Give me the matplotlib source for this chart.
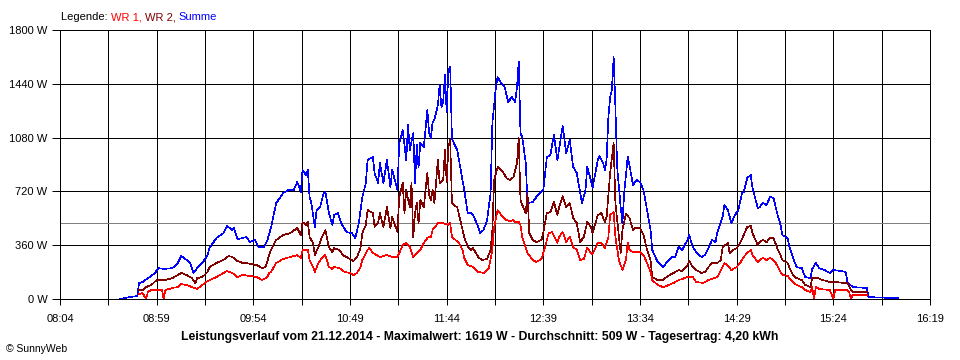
import matplotlib
matplotlib.use("Agg")
import matplotlib.pyplot as plt

plt.rcParams['font.family'] = ['Liberation Sans', 'DejaVu Sans']

# times in minutes since midnight, power in W
t_summe = [518, 524, 528, 529, 531, 535, 538, 540, 543, 548,
           551, 553, 556, 558, 560, 562, 565, 568, 569, 573,
           577, 579, 582, 583, 585, 588, 590, 592, 595, 597,
           600, 602, 604, 607, 611, 614, 617, 619, 621, 622,
           624, 625, 626, 627, 629, 630, 632, 634, 635, 637,
           639, 640, 642, 644, 647, 650, 652, 654, 656, 658,
           659, 662, 663, 665, 666, 668, 670, 672, 673, 676,
           677, 679, 681, 682, 683, 685, 686, 687, 688, 689,
           691, 693, 694, 695, 696, 697, 699, 700, 701, 702,
           703, 704, 705, 706, 707, 708, 710, 712, 714, 716,
           718, 719, 722, 723, 725, 727, 729, 730, 732, 733,
           735, 737, 739, 741, 743, 744, 745, 746, 747, 749,
           750, 753, 755, 757, 759, 761, 763, 765, 767, 769,
           770, 772, 774, 776, 778, 780, 781, 783, 784, 786,
           787, 790, 791, 793, 794, 795, 796, 797, 798, 799,
           800, 801, 803, 804, 805, 807, 808, 810, 812, 814,
           816, 818, 820, 821, 824, 827, 829, 832, 834, 836,
           838, 841, 842, 844, 846, 849, 851, 853, 855, 857,
           858, 861, 862, 864, 866, 868, 870, 872, 873, 875,
           877, 878, 881, 882, 884, 886, 888, 890, 892, 894,
           895, 898, 899, 901, 903, 906, 908, 911, 912, 914,
           916, 919, 922, 924, 928, 931, 932, 935, 943, 944,
           951, 961]
p_summe = [0, 13, 20, 107, 114, 147, 174, 207, 201, 207,
           241, 288, 261, 241, 174, 207, 241, 294, 341, 408,
           441, 488, 462, 475, 401, 408, 415, 381, 395, 348,
           348, 395, 475, 642, 709, 729, 729, 783, 716, 863,
           830, 863, 682, 642, 482, 595, 615, 709, 716, 575,
           495, 562, 575, 508, 448, 441, 408, 508, 682, 776,
           930, 950, 843, 776, 910, 776, 930, 749, 863, 729,
           1044, 1130, 930, 1164, 997, 1110, 776, 1030, 883, 1044,
           1017, 1264, 1110, 1077, 1184, 1198, 1298, 1432, 1285, 1318,
           1499, 1251, 1532, 1552, 1077, 1044, 997, 863, 729, 575,
           575, 562, 482, 441, 462, 528, 709, 1177, 1418, 1485,
           1445, 1418, 1318, 1351, 1318, 1418, 1586, 1110, 1084, 910,
           642, 649, 682, 709, 729, 950, 963, 1097, 930, 1084,
           1157, 977, 1064, 883, 843, 709, 642, 729, 883, 796,
           743, 930, 957, 910, 863, 930, 1218, 1350, 1398, 1619,
           1285, 883, 615, 508, 709, 950, 896, 763, 796, 783,
           729, 595, 462, 328, 248, 214, 241, 281, 281, 348,
           328, 395, 428, 348, 314, 281, 294, 341, 395, 381,
           448, 548, 629, 595, 508, 562, 595, 709, 716, 809,
           830, 743, 609, 615, 642, 629, 682, 676, 575, 495,
           428, 408, 348, 281, 214, 207, 147, 140, 201, 241,
           207, 194, 174, 194, 188, 181, 114, 80, 74, 13,
           10, 5]

t_wr2 = [529, 531, 533, 536, 539, 544, 548, 551, 553, 556,
         559, 561, 562, 565, 568, 569, 573, 577, 580, 582,
         585, 588, 590, 593, 596, 599, 601, 603, 604, 607,
         611, 615, 619, 621, 622, 624, 625, 626, 628, 629,
         631, 633, 635, 637, 639, 640, 643, 645, 648, 651,
         653, 655, 656, 658, 659, 662, 663, 665, 666, 668,
         670, 672, 673, 676, 677, 679, 680, 681, 683, 684,
         685, 686, 687, 688, 689, 691, 693, 694, 695, 696,
         697, 699, 700, 702, 703, 704, 705, 706, 707, 708,
         710, 712, 714, 716, 718, 719, 722, 724, 727, 729,
         730, 731, 733, 734, 736, 738, 740, 742, 744, 745,
         746, 747, 749, 750, 751, 753, 755, 758, 759, 761,
         763, 765, 767, 768, 770, 772, 774, 776, 778, 780,
         782, 784, 786, 787, 790, 792, 794, 795, 797, 799,
         800, 802, 803, 804, 806, 808, 810, 811, 814, 816,
         818, 820, 821, 824, 827, 830, 833, 836, 838, 841,
         842, 844, 846, 849, 851, 853, 855, 858, 860, 861,
         864, 865, 867, 869, 871, 873, 875, 877, 878, 881,
         882, 884, 886, 888, 890, 892, 894, 895, 898, 899,
         901, 903, 906, 908, 911, 912, 915, 918, 922, 925,
         930, 932, 934, 935, 943]
p_wr2 = [60, 60, 80, 94, 127, 127, 140, 161, 174, 161,
         140, 107, 140, 147, 181, 214, 241, 261, 288, 281,
         254, 241, 241, 234, 227, 207, 214, 294, 328, 395,
         428, 441, 475, 428, 515, 495, 515, 415, 375, 294,
         348, 415, 462, 348, 314, 341, 328, 294, 274, 254,
         281, 341, 441, 495, 595, 575, 482, 508, 575, 482,
         615, 475, 548, 448, 682, 776, 575, 729, 615, 776,
         415, 575, 642, 508, 662, 615, 843, 700, 662, 729,
         640, 930, 776, 796, 997, 780, 1017, 1064, 642, 629,
         615, 515, 415, 348, 328, 341, 281, 261, 268, 328,
         462, 796, 883, 876, 850, 809, 796, 816, 910, 1077,
         662, 629, 575, 709, 441, 395, 381, 395, 448, 575,
         582, 649, 562, 615, 689, 615, 642, 542, 508, 381,
         415, 515, 482, 441, 562, 575, 515, 548, 843, 1044,
         642, 415, 308, 462, 569, 542, 462, 475, 475, 428,
         328, 261, 147, 127, 127, 154, 174, 194, 187, 227,
         254, 214, 194, 174, 181, 214, 241, 241, 261, 348,
         375, 308, 328, 341, 375, 428, 482, 488, 441, 361,
         381, 395, 381, 408, 408, 341, 294, 261, 241, 207,
         161, 140, 127, 94, 80, 140, 140, 127, 114, 114,
         107, 107, 60, 47, 47]

t_wr1 = [529, 531, 533, 534, 536, 542, 543, 544, 548, 551,
         553, 556, 559, 562, 565, 568, 573, 577, 579, 582,
         585, 588, 592, 596, 599, 602, 603, 604, 607, 611,
         615, 619, 621, 622, 625, 626, 628, 629, 631, 633,
         635, 637, 639, 640, 643, 646, 649, 651, 653, 655,
         656, 659, 660, 662, 666, 670, 673, 676, 679, 681,
         683, 685, 687, 689, 691, 693, 694, 695, 696, 699,
         702, 705, 706, 707, 709, 711, 713, 714, 716, 719,
         722, 725, 728, 730, 731, 733, 735, 738, 740, 742,
         743, 745, 746, 747, 749, 750, 753, 755, 758, 760,
         762, 764, 767, 768, 770, 772, 774, 776, 778, 780,
         782, 784, 786, 787, 790, 792, 794, 796, 797, 799,
         800, 802, 804, 806, 807, 808, 810, 814, 816, 818,
         820, 821, 824, 827, 829, 833, 836, 838, 841, 844,
         846, 850, 853, 856, 858, 861, 862, 864, 866, 869,
         871, 873, 875, 877, 878, 881, 882, 884, 886, 888,
         890, 892, 894, 895, 898, 899, 901, 903, 906, 908,
         911, 912, 913, 914, 916, 922, 924, 925, 932, 933,
         934, 935, 943]
p_wr1 = [33, 40, 0, 47, 60, 60, 0, 60, 74, 80,
         100, 94, 80, 67, 94, 120, 147, 174, 187, 174,
         147, 161, 154, 147, 127, 147, 174, 181, 241, 268,
         281, 294, 274, 328, 328, 261, 214, 181, 241, 274,
         294, 214, 201, 214, 207, 181, 174, 161, 174, 214,
         261, 328, 341, 308, 281, 294, 281, 281, 361, 375,
         348, 281, 308, 328, 375, 408, 415, 415, 462, 508,
         508, 495, 508, 415, 395, 375, 328, 274, 227, 214,
         181, 174, 207, 328, 482, 595, 562, 528, 522, 528,
         515, 515, 495, 415, 341, 308, 261, 248, 268, 348,
         441, 448, 375, 415, 448, 381, 415, 348, 328, 261,
         268, 341, 308, 301, 375, 375, 341, 415, 562, 582,
         415, 261, 194, 261, 375, 328, 314, 314, 294, 241,
         181, 127, 94, 80, 87, 107, 127, 134, 147, 147,
         114, 107, 127, 140, 147, 214, 241, 221, 194, 214,
         241, 281, 308, 328, 294, 248, 261, 274, 261, 274,
         261, 227, 181, 161, 154, 140, 114, 94, 80, 60,
         47, 80, 0, 80, 67, 60, 0, 60, 60, 47,
         0, 27, 27]

avg_w = 509
y_ticks = [0, 360, 720, 1080, 1440, 1800]
t_start, t_end = 484, 979  # 08:04 .. 16:19
title = ("Leistungsverlauf vom 21.12.2014 - Maximalwert: 1619 W - "
         "Durchschnitt: 509 W - Tagesertrag: 4,20 kWh")
legend_parts = [("Legende: ", "black"), ("WR 1, ", "#ff0000"),
                ("WR 2, ", "#800000"), ("Summe", "#0000ff")]

c_wr1, c_wr2, c_sum = "#ff0000", "#800000", "#0000ff"
px = 0.72  # one pixel at 100 dpi


def hhmm(m):
    m = int(round(m))
    return "%02d:%02d" % (m // 60, m % 60)


fig = plt.figure(figsize=(9.6, 3.6), dpi=100)
ax = fig.add_axes([60 / 960, 1 - 299 / 360, 870 / 960, 269 / 360])
ax.set_xlim(t_start, t_end)
ax.set_ylim(0, 1800)

step = (t_end - t_start) / 18
major = [t_start + 2 * k * step for k in range(10)]
minor = [t_start + (2 * k + 1) * step for k in range(9)]
ax.set_xticks(major)
ax.set_xticklabels([hhmm(m) for m in major])
ax.set_xticks(minor, minor=True)
ax.set_yticks(y_ticks)
ax.set_yticklabels(["%d W" % v for v in y_ticks])

ax.grid(True, which="both", color="black", lw=px, antialiased=False)
ax.set_axisbelow(True)
for s in ax.spines.values():
    s.set_color("black")
    s.set_linewidth(px)
ax.tick_params(axis="x", which="both", length=4, width=px, pad=7, labelsize=8)
ax.tick_params(axis="y", length=6, width=px, pad=3, labelsize=8)

ax.axhline(avg_w, color="#808080", lw=px, antialiased=False, zorder=2)

lw_data = 0.45
ax.plot(t_summe, p_summe, color=c_sum, lw=lw_data, antialiased=False, zorder=3)
ax.plot(t_wr2, p_wr2, color=c_wr2, lw=lw_data, antialiased=False, zorder=4)
ax.plot(t_wr1, p_wr1, color=c_wr1, lw=lw_data, antialiased=False, zorder=5)

# multi-coloured legend line above the plot
prev = None
for txt, col in legend_parts:
    if prev is None:
        prev = fig.text(61 / 960, 1 - 22 / 360, txt, color=col, fontsize=8,
                        ha="left", va="bottom")
    else:
        prev = ax.annotate(txt, xy=(1, 0), xycoords=prev, ha="left", va="bottom",
                           color=col, fontsize=8, annotation_clip=False)

fig.text(0.5, 1 - 337 / 360, title, ha="center", va="center", fontsize=8.8, weight="bold")
fig.text(6 / 960, 1 - 349 / 360, "\u00a9 SunnyWeb", ha="left", va="center", fontsize=7.5)

plt.savefig("out.png", dpi=100)
